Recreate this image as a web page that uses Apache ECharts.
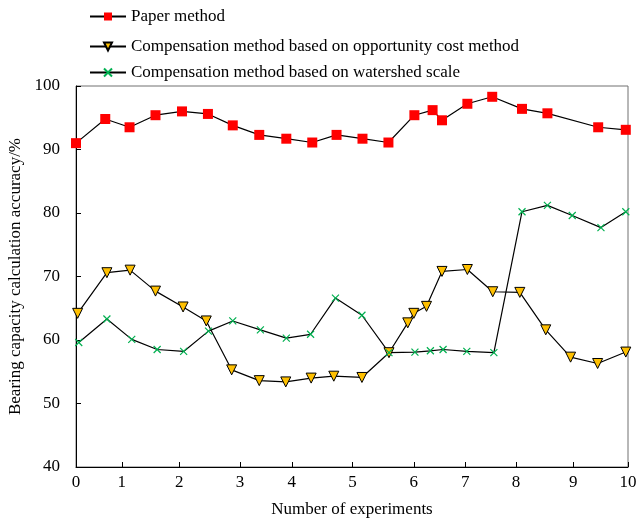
<!DOCTYPE html>
<html>
<head>
<meta charset="utf-8">
<script src="https://cdn.jsdelivr.net/npm/echarts@6/dist/echarts.min.js"></script>
<style>
  html, body { margin: 0; padding: 0; background: #fff; }
  #chart { width: 636px; height: 519px; }
</style>
</head>
<body>
<div id="chart"></div>
<script>
// x positions (0..10)
const paperX = [0, 0.53, 0.97, 1.44, 1.92, 2.39, 2.84, 3.32, 3.81, 4.28, 4.72, 5.19, 5.66, 6.13, 6.46, 6.63, 7.09, 7.54, 8.08, 8.54, 9.46, 9.96]
const paperY = [91.0, 94.8, 93.5, 95.4, 96.0, 95.6, 93.8, 92.3, 91.7, 91.1, 92.3, 91.7, 91.1, 95.4, 96.2, 94.6, 97.2, 98.3, 96.4, 95.7, 93.5, 93.1]

const costX = [0.03, 0.56, 0.98, 1.44, 1.94, 2.36, 2.82, 3.32, 3.80, 4.26, 4.67, 5.18, 5.67, 6.01, 6.12, 6.35, 6.63, 7.09, 7.55, 8.04, 8.51, 8.96, 9.45, 9.96]
const costY = [64.2, 70.6, 71.0, 67.7, 65.2, 63.0, 55.3, 53.6, 53.4, 54.0, 54.3, 54.1, 58.0, 62.7, 64.2, 65.3, 70.8, 71.1, 67.6, 67.5, 61.6, 57.3, 56.3, 58.1]

const shedX = [0.05, 0.56, 1.01, 1.47, 1.95, 2.40, 2.84, 3.34, 3.81, 4.25, 4.70, 5.18, 5.67, 6.14, 6.42, 6.65, 7.08, 7.57, 8.08, 8.54, 8.99, 9.51, 9.96]
const shedY = [59.6, 63.3, 60.1, 58.5, 58.2, 61.4, 63.0, 61.6, 60.3, 60.9, 66.6, 63.9, 58.0, 58.1, 58.3, 58.5, 58.2, 58.0, 80.2, 81.2, 79.6, 77.7, 80.2]

// tick marks sit at uneven places in the original figure
const xTickPos = [0, 0.83, 1.87, 2.97, 3.91, 5.01, 6.12, 7.05, 7.97, 9.01, 10]
const xTickLabels = ['0', '1', '2', '3', '4', '5', '6', '7', '8', '9', '10']

const names = [
  'Paper method',
  'Compensation method based on opportunity cost method',
  'Compensation method based on watershed scale'
]

const pairs = (xs, ys) => xs.map((x, i) => [x, ys[i]])
const font = 'Liberation Serif'

const chart = echarts.init(document.getElementById('chart'))

const legendRow = (name, top) => ({
  data: [name],
  left: 84,
  top: top,
  orient: 'horizontal',
  itemWidth: 36,
  itemHeight: 10,
  itemGap: 0,
  textStyle: { fontFamily: font, fontSize: 17, color: '#000' }
})

chart.setOption({
  animation: false,
  backgroundColor: '#fff',
  legend: [
    legendRow(names[0], 3),
    legendRow(names[1], 33),
    legendRow(names[2], 59)
  ],
  grid: {
    left: 76,
    right: 8,
    top: 86,
    bottom: 52,
    outerBoundsMode: 'none',
    show: true,
    borderColor: '#707070',
    borderWidth: 1
  },
  xAxis: {
    type: 'value',
    min: 0,
    max: 10,
    name: 'Number of experiments',
    nameLocation: 'middle',
    nameGap: 34,
    nameTextStyle: { fontFamily: font, fontSize: 17, color: '#000' },
    axisLine: { lineStyle: { color: '#000', width: 1 } },
    axisTick: {
      inside: true,
      length: 5,
      customValues: xTickPos,
      lineStyle: { color: '#000' }
    },
    axisLabel: {
      customValues: xTickPos,
      margin: 7,
      fontFamily: font,
      fontSize: 17,
      color: '#000',
      formatter: function(v) {
        let best = 0
        for (let i = 0; i < xTickPos.length; i++) {
          if (Math.abs(xTickPos[i] - v) < Math.abs(xTickPos[best] - v)) best = i
        }
        return xTickLabels[best]
      }
    },
    splitLine: { show: false }
  },
  yAxis: {
    type: 'value',
    min: 40,
    max: 100,
    interval: 10,
    name: 'Bearing capacity calculation accuracy/%',
    nameLocation: 'middle',
    nameGap: 52,
    nameTextStyle: { fontFamily: font, fontSize: 17, color: '#000' },
    axisLine: { show: true, lineStyle: { color: '#000', width: 1 } },
    axisTick: { show: true, inside: true, length: 5, lineStyle: { color: '#000' } },
    axisLabel: { margin: 16, fontFamily: font, fontSize: 17, color: '#000' },
    splitLine: { show: false }
  },
  series: [
    {
      name: names[0],
      type: 'line',
      data: pairs(paperX, paperY),
      symbol: 'rect',
      symbolSize: 10,
      lineStyle: { color: '#000', width: 1.2 },
      itemStyle: { color: '#ff0000' }
    },
    {
      name: names[1],
      type: 'line',
      data: pairs(costX, costY),
      symbol: 'triangle',
      symbolRotate: 180,
      symbolSize: 10,
      lineStyle: { color: '#000', width: 1.2 },
      itemStyle: { color: '#ffc000', borderColor: '#000', borderWidth: 1 }
    },
    {
      name: names[2],
      type: 'line',
      data: pairs(shedX, shedY),
      symbol: 'path://M0,0L10,10M10,0L0,10',
      symbolSize: 7,
      lineStyle: { color: '#000', width: 1.2 },
      itemStyle: { color: '#00b050', borderColor: '#00b050', borderWidth: 1.2 }
    }
  ]
})
</script>
</body>
</html>
